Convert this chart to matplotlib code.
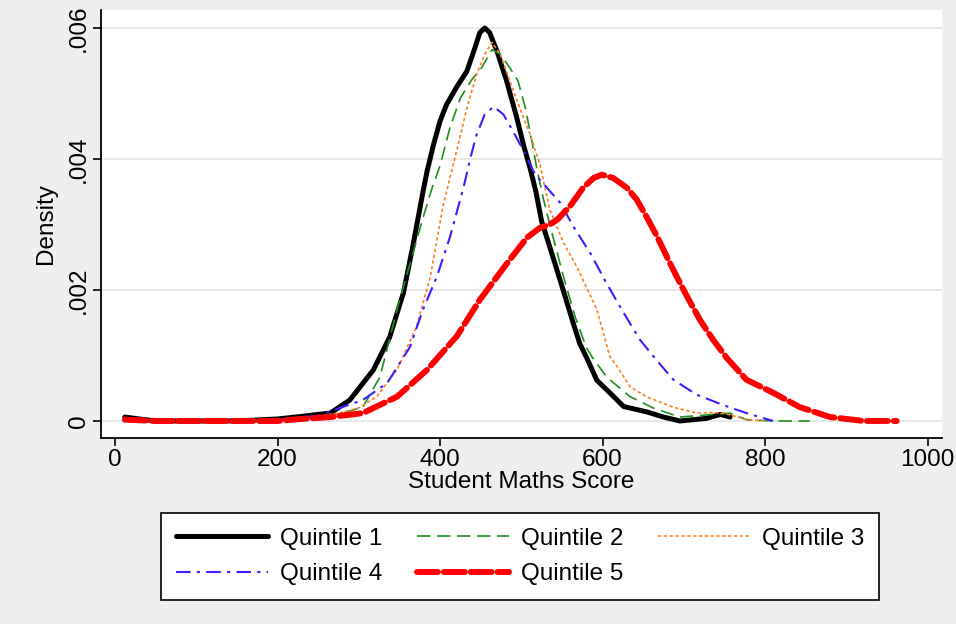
import matplotlib
matplotlib.use('Agg')
import matplotlib.pyplot as plt

plt.rcParams['font.family'] = ['Liberation Sans', 'DejaVu Sans']

# Kernel density curves
q1_x = [12, 30, 50, 100, 150, 200, 230, 250, 265, 289, 318, 338, 355, 367, 379, 384, 392, 400, 408, 420,
        433, 443, 449, 455, 461, 470, 482, 494, 503, 511, 518, 525, 540, 552, 564, 572, 581, 593, 609,
        626, 654, 675, 695, 712, 728, 745, 757]
q1_y = [0.00006, 0.00003, 0.0, 0.0, 0.0, 0.00003, 0.00007, 0.0001, 0.00012, 0.00032, 0.00078, 0.00128,
        0.00196, 0.0027, 0.0035, 0.00381, 0.00422, 0.00458, 0.00483, 0.00509, 0.00534, 0.0057, 0.00593,
        0.006, 0.00593, 0.00565, 0.00519, 0.00465, 0.0042, 0.00385, 0.0035, 0.00305, 0.00246, 0.00198,
        0.00149, 0.00118, 0.00095, 0.00062, 0.00043, 0.00022, 0.00014, 0.00006, 0.0, 0.00002, 0.00004,
        0.0001, 0.00006]

q2_x = [12, 50, 100, 150, 200, 250, 280, 305, 326, 347, 363, 379, 390, 400, 412, 425, 439, 451, 464, 474,
        486, 496, 505, 513, 519, 527, 535, 552, 566, 580, 587, 605, 634, 662, 695, 716, 736, 757, 777,
        810, 855]
q2_y = [0.00004, 0.0, 0.0, 0.0, 0.00002, 0.00008, 0.00012, 0.00021, 0.00067, 0.0017, 0.0024, 0.0031,
        0.00355, 0.0039, 0.00447, 0.00493, 0.00521, 0.00539, 0.00567, 0.0056, 0.00539, 0.00519, 0.00478,
        0.00427, 0.00386, 0.0034, 0.003, 0.0022, 0.0016, 0.00112, 0.00098, 0.00067, 0.00037, 0.0002,
        0.00006, 0.00008, 0.0001, 0.00012, 0.00002, 0.0, 0.0]

q3_x = [12, 50, 100, 150, 200, 250, 280, 300, 322, 347, 371, 388, 404, 412, 421, 433, 445, 455, 464, 474,
        486, 498, 511, 523, 535, 552, 568, 580, 593, 601, 609, 618, 634, 654, 687, 716, 735, 749, 777, 800]
q3_y = [0.00004, 0.0, 0.0, 0.0, 0.00002, 0.00007, 0.00013, 0.0002, 0.00037, 0.00078, 0.00144, 0.0022,
        0.0033, 0.0037, 0.00415, 0.00478, 0.00529, 0.0056, 0.00578, 0.0056, 0.00519, 0.00478, 0.00437,
        0.00391, 0.00323, 0.00272, 0.00236, 0.00205, 0.0017, 0.00134, 0.00098, 0.00083, 0.00052,
        0.00037, 0.00021, 0.00012, 0.00013, 0.00012, 0.00002, 0.0]

q4_x = [12, 50, 100, 150, 200, 250, 277, 305, 335, 363, 379, 396, 412, 429, 437, 445, 455, 466, 478, 490,
        503, 515, 523, 548, 564, 585, 605, 626, 646, 663, 687, 716, 749, 777, 810]
q4_y = [0.00004, 0.0, 0.0, 0.0, 0.00002, 0.00008, 0.0002, 0.00032, 0.00058, 0.00113, 0.0017, 0.0022,
        0.0028, 0.00357, 0.004, 0.00437, 0.00468, 0.0048, 0.00468, 0.00442, 0.00412, 0.00381, 0.00368,
        0.00333, 0.00297, 0.00256, 0.0021, 0.00165, 0.00124, 0.00098, 0.00063, 0.0004, 0.00024,
        0.00012, 0.0]

q5_x = [12, 50, 100, 150, 200, 228, 265, 305, 347, 384, 421, 449, 482, 507, 523, 535, 544, 560, 576, 589,
        599, 613, 630, 642, 654, 667, 679, 691, 704, 720, 736, 753, 777, 810, 843, 880, 921, 962]
q5_y = [0.00002, 0.0, 0.0, 0.0, 0.0, 0.00003, 0.00006, 0.00012, 0.00037, 0.00078, 0.0013, 0.00185,
        0.0024, 0.0028, 0.00295, 0.003, 0.00307, 0.00328, 0.00356, 0.00371, 0.00376, 0.00371, 0.00356,
        0.00338, 0.00312, 0.00282, 0.00251, 0.00221, 0.0019, 0.00154, 0.00124, 0.00096, 0.00063,
        0.00043, 0.00021, 0.00006, 0.0, 0.0]

x_ticks = [0, 200, 400, 600, 800, 1000]
y_ticks = [0, 0.002, 0.004, 0.006]
y_tick_labels = ['0', '.002', '.004', '.006']

fig = plt.figure(figsize=(9.56, 6.24), dpi=100, facecolor='#efefef')
ax = fig.add_axes([0.1057, 0.2981, 0.8797, 0.6859])
ax.set_facecolor('white')

l1, = ax.plot(q1_x, q1_y, color='black', lw=3.6, solid_capstyle='round', solid_joinstyle='round',
              label='Quintile 1')
l2, = ax.plot(q2_x, q2_y, color='#1f8f1f', lw=1.2, linestyle=(0, (8, 4)), label='Quintile 2')
l3, = ax.plot(q3_x, q3_y, color='#ff7f27', lw=1.2, linestyle=(0, (2, 1.5)), label='Quintile 3')
l4, = ax.plot(q4_x, q4_y, color='#3a1fff', lw=1.5, linestyle=(0, (7, 3, 1.5, 3)), label='Quintile 4')
l5, = ax.plot(q5_x, q5_y, color='#ff0000', lw=4.3, linestyle=(0, (3.5, 1)), dash_capstyle='round',
              label='Quintile 5')

ax.set_xlim(-17.2, 1017.8)
ax.set_ylim(-0.00026, 0.006275)
ax.set_xticks(x_ticks)
ax.set_yticks(y_ticks)
ax.set_yticklabels(y_tick_labels, rotation=90, va='center')
ax.tick_params(labelsize=17.5, length=6, width=1.2, direction='out', pad=2)
ax.grid(axis='y', color='#e4e4e4', lw=1.2)
ax.set_axisbelow(True)
for s in ['top', 'right']:
    ax.spines[s].set_visible(False)
for s in ['left', 'bottom']:
    ax.spines[s].set_linewidth(1.3)

ax.set_xlabel('Student Maths Score', fontsize=17.5, labelpad=0)
ax.set_ylabel('Density', fontsize=17.5, labelpad=8)

# matplotlib fills legend columns first, so order the handles to read row by row
handles = [l1, l4, l2, l5, l3]
leg = fig.legend(handles, [h.get_label() for h in handles], loc='upper center',
                 bbox_to_anchor=(0.544, 0.178), borderaxespad=0, ncol=3, fontsize=17.5,
                 handlelength=3.8, handletextpad=0.5, columnspacing=1.4, borderpad=0.6,
                 labelspacing=0.57, fancybox=False, framealpha=1, edgecolor='black')
leg.get_frame().set_linewidth(1.2)

fig.savefig('out.png', dpi=100, facecolor=fig.get_facecolor())
